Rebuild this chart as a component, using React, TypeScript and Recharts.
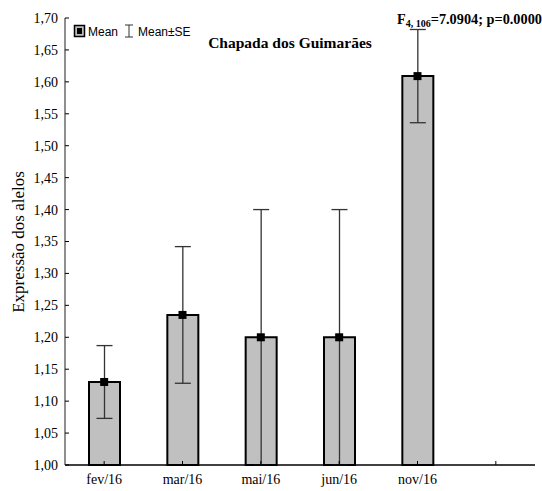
import React from "react";
import {
  ComposedChart,
  Bar,
  ErrorBar,
  Scatter,
  XAxis,
  YAxis,
  Customized,
} from "recharts";

const months = ["fev/16", "mar/16", "mai/16", "jun/16", "nov/16", ""];
const means = [1.13, 1.235, 1.2, 1.2, 1.609, null];
const se = [0.057, 0.107, 0.2, 0.2, 0.073, null];
const yTicks = [1.0, 1.05, 1.1, 1.15, 1.2, 1.25, 1.3, 1.35, 1.4, 1.45, 1.5, 1.55, 1.6, 1.65, 1.7];

const data = months.map((m, i) => ({
  month: m,
  mean: means[i],
  err: se[i],
}));

const serif = "Liberation Serif, Tinos, Times New Roman, DejaVu Serif, serif";
const sans = "Liberation Sans, Arimo, Arial, sans-serif";

const fmt = (v: number) => v.toFixed(2).replace(".", ",");

const MeanSquare = (props: any) => {
  const { cx, cy } = props;
  if (cx == null || cy == null || props.payload?.mean == null) return null;
  return <rect x={cx - 4} y={cy - 4} width={8} height={8} fill="#000" />;
};

const Annotations = () => (
  <g>
    {/* legend */}
    <rect x={74.5} y={25.5} width={10} height={11} fill="#bdbdbd" stroke="#000" strokeWidth={1.5} />
    <rect x={77} y={28} width={5} height={6} fill="#000" />
    <text x={88} y={35.5} fontFamily={sans} fontSize={12} fill="#000">Mean</text>
    <line x1={129} y1={25} x2={129} y2={37} stroke="#333" strokeWidth={1} />
    <line x1={125} y1={25} x2={133} y2={25} stroke="#333" strokeWidth={1} />
    <line x1={125} y1={37} x2={133} y2={37} stroke="#333" strokeWidth={1} />
    <text x={138} y={35.5} fontFamily={sans} fontSize={12} fill="#000">Mean±SE</text>
    {/* title */}
    <text x={290} y={47.5} textAnchor="middle" fontFamily={serif} fontSize={15.5} fontWeight="bold" fill="#000">
      Chapada dos Guimarães
    </text>
    <text x={397} y={24} fontFamily={serif} fontSize={14.3} fontWeight="bold" fill="#000">
      F<tspan fontSize={10} dy={3}>4, 106</tspan>
      <tspan dy={-3}>=7.0904; p=0.0000</tspan>
    </text>
    {/* y axis title */}
    <text
      x={24}
      y={242}
      transform="rotate(-90 24 242)"
      textAnchor="middle"
      fontFamily={serif}
      fontSize={17}
      fill="#000"
    >
      Expressão dos alelos
    </text>
  </g>
);

export default function App() {
  return (
    <div style={{ position: "absolute", left: 0, top: 0, width: 542, height: 491, background: "#fff" }}>
      <ComposedChart
        width={542}
        height={491}
        data={data}
        margin={{ top: 18, right: 7, bottom: 1, left: 0 }}
        barCategoryGap={0}
      >
        <XAxis
          dataKey="month"
          type="category"
          height={25}
          tickSize={-4}
          tickMargin={13}
          axisLine={{ stroke: "#000", strokeWidth: 1.5 }}
          tickLine={{ stroke: "#000" }}
          tick={{ fontFamily: serif, fontSize: 14, fill: "#000" }}
          interval={0}
        />
        <YAxis
          type="number"
          domain={[1, 1.7]}
          ticks={yTicks}
          width={65}
          tickSize={-4}
          tickMargin={11}
          tickFormatter={fmt}
          axisLine={{ stroke: "#444", strokeWidth: 1.2 }}
          tickLine={{ stroke: "#000" }}
          tick={{ fontFamily: serif, fontSize: 14, fill: "#000" }}
          interval={0}
        />
        <Bar
          dataKey="mean"
          barSize={31}
          fill="#c0c0c0"
          stroke="#000"
          strokeWidth={2}
          isAnimationActive={false}
        >
          <ErrorBar dataKey="err" width={8} stroke="#333" strokeWidth={1.3} direction="y" />
        </Bar>
        <Scatter dataKey="mean" shape={MeanSquare} isAnimationActive={false} />
        <Customized component={Annotations} />
      </ComposedChart>
    </div>
  );
}
